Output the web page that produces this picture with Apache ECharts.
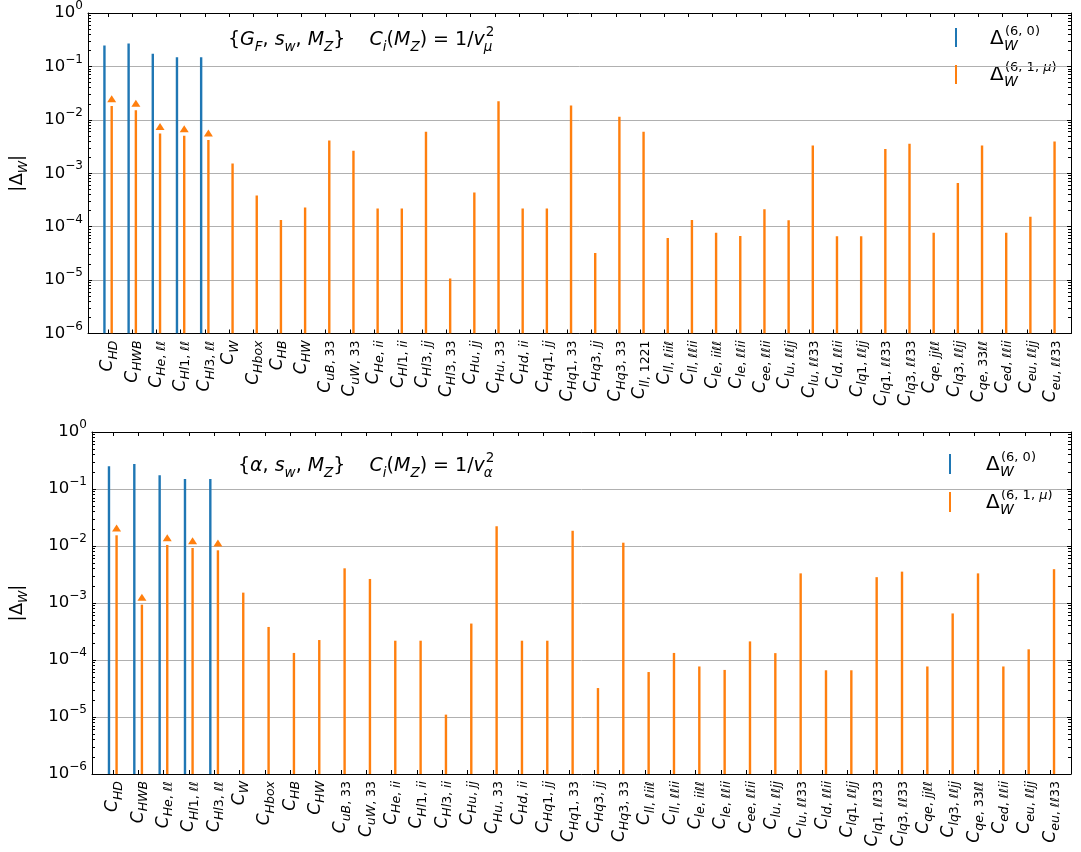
<!DOCTYPE html>
<html><head><meta charset="utf-8">
<script src="https://cdn.jsdelivr.net/npm/echarts@6/dist/echarts.min.js"></script>
<style>html,body{margin:0;padding:0;background:#fff}#c{width:1081px;height:852px}</style>
</head><body><div id="c"></div><script>
// ---------- data ----------
const topLabels = ['HD','HWB','He, ℓℓ','Hl1, ℓℓ','Hl3, ℓℓ','W','Hbox','HB','HW','uB, 33','uW, 33','He, ii','Hl1, ii','Hl3, jj','Hl3, 33','Hu, jj','Hu, 33','Hd, ii','Hq1, jj','Hq1, 33','Hq3, jj','Hq3, 33','ll, 1221','ll, ℓiiℓ','ll, ℓℓii','le, iiℓℓ','le, ℓℓii','ee, ℓℓii','lu, ℓℓjj','lu, ℓℓ33','ld, ℓℓii','lq1, ℓℓjj','lq1, ℓℓ33','lq3, ℓℓ33','qe, jjℓℓ','lq3, ℓℓjj','qe, 33ℓℓ','ed, ℓℓii','eu, ℓℓjj','eu, ℓℓ33'];
const topTree  = [0.246, 0.268, 0.173, 0.148, 0.148];
const topLoop  = [0.0182, 0.0151, 0.00557, 0.00505, 0.00421, 0.00152, 0.000384, 0.000133, 0.000228, 0.00409,
                  0.00264, 0.000218, 0.000218, 0.00598, 1.07e-5, 0.000436, 0.0222, 0.000218, 0.000218, 0.0185,
                  3.22e-5, 0.01143, 0.00598, 6.15e-5, 0.000133, 7.7e-5, 6.7e-5, 0.000212, 0.000132, 0.00331,
                  6.6e-5, 6.6e-5, 0.00284, 0.00355, 7.7e-5, 0.000656, 0.00331, 7.7e-5, 0.000154, 0.00392];
const topArrow = [0.0248, 0.0204, 0.0075, 0.0068, 0.00565];

const botLabels = ['HD','HWB','He, ℓℓ','Hl1, ℓℓ','Hl3, ℓℓ','W','Hbox','HB','HW','uB, 33','uW, 33','He, ii','Hl1, ii','Hl3, ii','Hu, jj','Hu, 33','Hd, ii','Hq1, jj','Hq1, 33','Hq3, jj','Hq3, 33','ll, ℓiiℓ','ll, ℓℓii','le, iiℓℓ','le, ℓℓii','ee, ℓℓii','lu, ℓℓjj','lu, ℓℓ33','ld, ℓℓii','lq1, ℓℓjj','lq1, ℓℓ33','lq3, ℓℓ33','qe, jjℓℓ','lq3, ℓℓjj','qe, 33ℓℓ','ed, ℓℓii','eu, ℓℓjj','eu, ℓℓ33'];
const botTree  = [0.250, 0.275, 0.174, 0.150, 0.150];
const botLoop  = [0.0154, 0.000935, 0.01043, 0.00923, 0.0084, 0.00152, 0.00038, 0.000133, 0.000224, 0.00406,
                  0.00264, 0.000218, 0.000218, 1.1e-5, 0.000436, 0.0222, 0.000218, 0.000218, 0.0185, 3.22e-5,
                  0.01143, 6.15e-5, 0.000133, 7.7e-5, 6.7e-5, 0.000212, 0.000132, 0.00331, 6.6e-5, 6.6e-5,
                  0.00284, 0.00355, 7.7e-5, 0.000656, 0.00331, 7.7e-5, 0.000154, 0.00392];
const botArrow = [0.0207, 0.001256, 0.0140, 0.0124, 0.0113];

const yMin = 1e-6, yMax = 1;
const nameTree = 'Δ(6,0)', nameLoop = 'Δ(6,1,μ)';
// minor tick positions of the log axis (2..9 x 10^n)
const minorTickValues = [];
for (let e = -6; e < 0; e++) for (let m = 2; m <= 9; m++) minorTickValues.push(+(m * Math.pow(10, e)).toPrecision(3));

// ---------- style ----------
const FONT = 'DejaVu Sans';
const BLUE = '#1f77b4', ORANGE = '#ff7f0e';
const OFF = 0.15;

function subTokens(s) {
  let out = '', cur = '', type = null;
  for (const ch of s) {
    const t = /[A-Za-zℓ]/.test(ch) ? 'si' : 'sn';
    if (t !== type && cur) { out += '{' + type + '|' + cur + '}'; cur = ''; }
    type = t; cur += ch;
  }
  if (cur) out += '{' + type + '|' + cur + '}';
  return out;
}
const xRich = {
  c:  {fontFamily: FONT, fontSize: 17, fontStyle: 'italic', lineHeight: 24, color: '#000'},
  si: {fontFamily: FONT, fontSize: 12.5, fontStyle: 'italic', lineHeight: 13, verticalAlign: 'bottom', color: '#000'},
  sn: {fontFamily: FONT, fontSize: 12.5, lineHeight: 13, verticalAlign: 'bottom', color: '#000'}
};
const yRich = {
  b: {fontFamily: FONT, fontSize: 16.5, lineHeight: 26, color: '#000'},
  e: {fontFamily: FONT, fontSize: 12, lineHeight: 13, verticalAlign: 'top', color: '#000'}
};
const nameRich = {
  n:  {fontFamily: FONT, fontSize: 18, lineHeight: 26, color: '#000'},
  si: {fontFamily: FONT, fontSize: 12.5, fontStyle: 'italic', lineHeight: 14, verticalAlign: 'bottom', color: '#000'}
};

function rangeArr(n) { const a = []; for (let i = 0; i < n; i++) a.push(i); return a; }

function makeAxes(gi, labels, xmin, xmax) {
  const ticks = rangeArr(labels.length);
  const xs = [
    {type: 'value', gridIndex: gi, min: xmin, max: xmax, position: 'bottom',
     axisLine: {show: true, onZero: false, lineStyle: {color: '#000', width: 1}},
     axisTick: {show: true, inside: true, length: 4, customValues: ticks, lineStyle: {color: '#000'}},
     axisLabel: {show: true, customValues: ticks, rotate: 90, margin: 7, rich: xRich,
       formatter: v => '{c|C}' + subTokens(labels[Math.round(v)])},
     splitLine: {show: false}},
    {type: 'value', gridIndex: gi, min: xmin, max: xmax, position: 'top',
     axisLine: {show: true, onZero: false, lineStyle: {color: '#000', width: 1}},
     axisTick: {show: true, inside: true, length: 4, customValues: ticks, lineStyle: {color: '#000'}},
     axisLabel: {show: false}, splitLine: {show: false}}
  ];
  const ys = [
    {type: 'log', gridIndex: gi, logBase: 10, min: yMin, max: yMax, interval: 1, position: 'left',
     name: '{n||Δ}{si|W}{n||}', nameLocation: 'middle', nameGap: gi === 0 ? 58 : 62,
     nameTextStyle: {rich: nameRich},
     axisLine: {show: true, onZero: false, lineStyle: {color: '#000', width: 1}},
     axisTick: {show: true, inside: true, length: 4, lineStyle: {color: '#000'}},
     axisLabel: {margin: 5, rich: yRich, formatter: v => {
       const e = Math.round(Math.log10(v));
       return '{b|10}{e|' + (e < 0 ? '−' + (-e) : '' + e) + '}';
     }},
     splitLine: {show: true, lineStyle: {color: '#b0b0b0', width: 1}}},
    {type: 'log', gridIndex: gi, logBase: 10, min: yMin, max: yMax, interval: 1, position: 'right',
     axisLine: {show: true, onZero: false, lineStyle: {color: '#000', width: 1}},
     axisTick: {show: true, inside: true, length: 4, lineStyle: {color: '#000'}},
     axisLabel: {show: false}, splitLine: {show: false}}
  ];
  ['left', 'right'].forEach(pos => ys.push(
    {type: 'log', gridIndex: gi, logBase: 10, min: yMin, max: yMax, position: pos,
     axisLine: {show: false, onZero: false},
     axisTick: {show: true, inside: true, length: 3, customValues: minorTickValues, lineStyle: {color: '#000', width: 1}},
     axisLabel: {show: false}, splitLine: {show: false}}
  ));
  return {xs, ys};
}

function stemRender(offset, color) {
  return function (params, api) {
    const x = api.value(0) + offset, v = api.value(1);
    const p1 = api.coord([x, v]);
    const p0 = api.coord([x, yMin]);
    return {type: 'rect', shape: {x: p1[0] - 1.2, y: p1[1], width: 2.4, height: p0[1] - p1[1]},
            style: {fill: color}};
  };
}

function panelSeries(xBase, yBase, tree, loop, arrow) {
  return [
    {type: 'custom', name: nameTree, xAxisIndex: xBase, yAxisIndex: yBase, color: BLUE,
     itemStyle: {color: BLUE}, renderItem: stemRender(-OFF, BLUE),
     data: tree.map((v, i) => [i, v]), clip: true},
    {type: 'custom', name: nameLoop, xAxisIndex: xBase, yAxisIndex: yBase, color: ORANGE,
     itemStyle: {color: ORANGE}, renderItem: stemRender(OFF, ORANGE),
     data: loop.map((v, i) => [i, v]), clip: true},
    {type: 'scatter', name: 'arrow' + xBase, xAxisIndex: xBase, yAxisIndex: yBase,
     symbol: 'triangle', symbolSize: [9, 7], itemStyle: {color: ORANGE, opacity: 1},
     data: arrow.map((v, i) => [i + OFF, v]), silent: true}
  ];
}

const A = makeAxes(0, topLabels, -0.83, topLabels.length - 1 + 0.83);
const B = makeAxes(1, botLabels, -0.82, botLabels.length - 1 + 0.82);

// ---------- annotations ----------
const AF = 19, AS = 13.5;
const annRich = {
  n:  {fontFamily: FONT, fontSize: AF, lineHeight: 28, color: '#000'},
  i:  {fontFamily: FONT, fontSize: AF, fontStyle: 'italic', lineHeight: 28, color: '#000'},
  si: {fontFamily: FONT, fontSize: AS, fontStyle: 'italic', lineHeight: 15, verticalAlign: 'bottom', color: '#000'}
};
const measCtx = document.createElement('canvas').getContext('2d');
function segWidth(segs) {
  let w = 0;
  for (const [t, k] of segs) {
    const st = annRich[k];
    measCtx.font = (st.fontStyle === 'italic' ? 'italic ' : '') + st.fontSize + 'px "' + FONT + '"';
    w += measCtx.measureText(t).width;
  }
  return w;
}
function segRich(segs) {
  return segs.map(([t, k]) => '{' + k + '|' + t + '}').join('');
}
const ann1Head = [['{', 'n'], ['G', 'i'], ['F', 'si'], [', ', 'n'], ['s', 'i'], ['w', 'si'], [', ', 'n'], ['M', 'i'], ['Z', 'si']];
const ann1Tail = [['    ', 'n'], ['C', 'i'], ['i', 'si'], ['(', 'n'], ['M', 'i'], ['Z', 'si'], [') = 1/', 'n'], ['v', 'i']];
const ann1Sub = 'μ';
const ann2Head = [['{', 'n'], ['α', 'i'], [', ', 'n'], ['s', 'i'], ['w', 'si'], [', ', 'n'], ['M', 'i'], ['Z', 'si']];
const ann2Tail = ann1Tail;
const ann2Sub = 'α';

function txt(x, y, text, size, italic, rich) {
  return {type: 'text', x: x, y: y, silent: true,
    style: {text: text, fontFamily: FONT, fontSize: size, fontStyle: italic ? 'italic' : 'normal',
            fill: '#000', verticalAlign: 'middle', align: 'left', rich: rich}};
}
function annotation(x, y, head, tail, sub) {
  const wHead = segWidth(head);
  measCtx.font = AF + 'px "' + FONT + '"';
  const wBrace = measCtx.measureText('}').width;
  const wTail = segWidth(tail);
  const xEnd = x + wHead + wBrace + wTail;
  return [
    txt(x, y, segRich(head) + '}' + segRich(tail), AF, false, annRich),
    txt(xEnd - 1, y + 7, sub, AS, true),
    txt(xEnd + 1, y - 8, '2', AS, false)
  ];
}
const supRich = {
  n: {fontFamily: FONT, fontSize: 13, color: '#000'},
  i: {fontFamily: FONT, fontSize: 13, fontStyle: 'italic', color: '#000'}
};
function legendLabel(x, y, sup) {
  return [
    txt(x, y, 'Δ', 20, false),
    txt(x + 14, y + 7, 'W', 14, true),
    txt(x + 15, y - 7, sup, 13, false, supRich)
  ];
}

const option = {
  backgroundColor: '#fff',
  animation: false,
  textStyle: {fontFamily: FONT},
  grid: [
    {left: 83, top: 6.5, width: 988, height: 327},
    {left: 87, top: 432, width: 984, height: 342}
  ],
  xAxis: [...A.xs, ...B.xs],
  yAxis: [...A.ys, ...B.ys],
  legend: [
    {data: [nameTree, nameLoop], orient: 'vertical', left: 955, top: 28, padding: 0, align: 'left',
     icon: 'rect', itemWidth: 2, itemHeight: 19, itemGap: 18, formatter: () => '', selectedMode: false},
    {data: [nameTree, nameLoop], orient: 'vertical', left: 949, top: 454, padding: 0, align: 'left',
     icon: 'rect', itemWidth: 2, itemHeight: 20, itemGap: 18, formatter: () => '', selectedMode: false}
  ],
  graphic: [
    ...annotation(228, 40, ann1Head, ann1Tail, ann1Sub),
    ...annotation(238, 466, ann2Head, ann2Tail, ann2Sub),
    ...legendLabel(990, 39, '{n|(6, 0)}'),
    ...legendLabel(990, 75, '{n|(6, 1, }{i|μ}{n|)}'),
    ...legendLabel(986, 465, '{n|(6, 0)}'),
    ...legendLabel(986, 503, '{n|(6, 1, }{i|μ}{n|)}')
  ],
  series: [
    ...panelSeries(0, 0, topTree, topLoop, topArrow),
    ...panelSeries(2, 4, botTree, botLoop, botArrow)
  ]
};
const chart = echarts.init(document.getElementById('c'), null, {renderer: 'canvas'});
chart.setOption(option);
</script></body></html>
